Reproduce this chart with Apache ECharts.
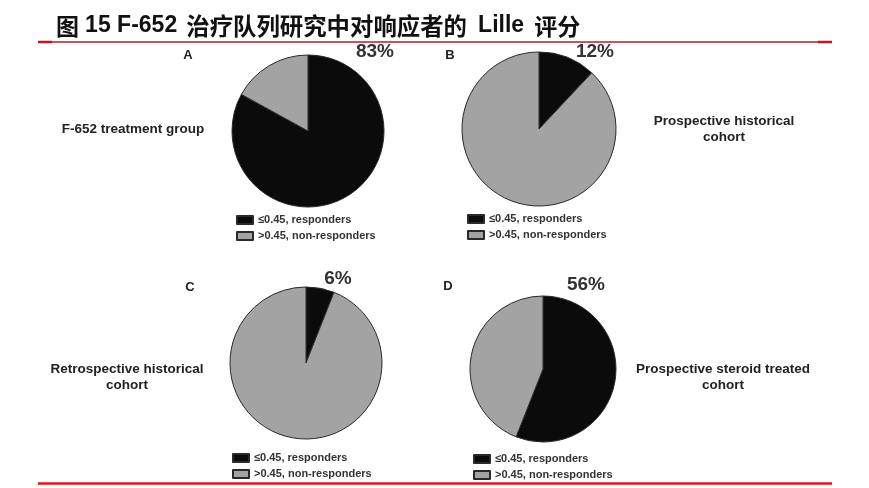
<!DOCTYPE html>
<html>
<head>
<meta charset="utf-8">
<script src="https://cdn.jsdelivr.net/npm/echarts@6/dist/echarts.min.js"></script>
<style>
html,body{margin:0;padding:0;background:#fff;}
#chart{width:869px;height:488px;}
</style>
</head>
<body>
<div id="chart"></div>
<script>
// ---- data ----
var panels = ['A', 'B', 'C', 'D'];
var groups = ['F-652 treatment group', 'Prospective historical\ncohort', 'Retrospective historical\ncohort', 'Prospective steroid treated\ncohort'];
var legendNames = ['≤0.45, responders', '>0.45, non-responders'];
var responders = [83, 12, 6, 56];
var nonResponders = [17, 88, 94, 44];

// ---- layout (styles/positions only) ----
var pieCenters = [[308, 131], [539, 129], [306, 363], [543, 369]];
var pieRadii = [76, 77, 76, 73];
var letterPos = [[188, 55], [450, 55], [190, 287], [448, 286]];
var pctPos = [[375, 52], [595, 52], [338, 279], [586, 285]];
var groupPos = [[133, 129], [724, 129], [127, 377], [723, 377]];
var legendPos = [[236, 214], [467, 213], [232, 452], [473, 453]];
var colors = ['#0b0b0b', '#a3a3a3'];

var chart = echarts.init(document.getElementById('chart'), null, {renderer: 'canvas'});

var series = [];
var legends = [];
var graphics = [];

for (var i = 0; i < panels.length; i++) {
  series.push({
    type: 'pie',
    center: pieCenters[i],
    radius: [0, pieRadii[i]],
    startAngle: 90,
    clockwise: true,
    label: {show: false},
    labelLine: {show: false},
    emphasis: {disabled: true},
    silent: true,
    itemStyle: {borderColor: '#2a2a2a', borderWidth: 1},
    data: [
      {name: legendNames[0], value: responders[i], itemStyle: {color: colors[0]}},
      {name: legendNames[1], value: nonResponders[i], itemStyle: {color: colors[1]}}
    ]
  });
  legends.push({
    orient: 'vertical',
    left: legendPos[i][0],
    top: legendPos[i][1],
    padding: 0,
    itemWidth: 16,
    itemHeight: 8,
    itemGap: 4,
    icon: 'rect',
    selectedMode: false,
    data: legendNames,
    textStyle: {fontFamily: 'Liberation Sans, Arial, sans-serif', fontSize: 11, fontWeight: 'bold', color: '#333', lineHeight: 12}
  });
  graphics.push({
    type: 'text', x: letterPos[i][0], y: letterPos[i][1], silent: true,
    style: {text: panels[i], fill: '#222', font: 'bold 13px "Liberation Sans", Arial, sans-serif', textAlign: 'center', textVerticalAlign: 'middle'}
  });
  graphics.push({
    type: 'text', x: pctPos[i][0], y: pctPos[i][1], silent: true,
    style: {text: responders[i] + '%', fill: '#333', font: 'bold 19px "Liberation Sans", Arial, sans-serif', textAlign: 'center', textVerticalAlign: 'middle'}
  });
  graphics.push({
    type: 'text', x: groupPos[i][0], y: groupPos[i][1], silent: true,
    style: {text: groups[i], fill: '#222', font: 'bold 13.5px "Liberation Sans", Arial, sans-serif', lineHeight: 16, textAlign: 'center', textVerticalAlign: 'middle'}
  });
}

// title
graphics.push({
  type: 'text', x: 56, y: 26, silent: true,
  style: {
    text: '{cn|图} {en|15 F-652} {cn2|治疗队列研究中对响应者的} {en2|Lille} {cn|评分}',
    textVerticalAlign: 'middle',
    rich: {
      cn: {fontFamily: '"Noto Sans CJK SC", sans-serif', fontSize: 23, fontWeight: 'bold', fill: '#111', color: '#111'},
      cn2: {fontFamily: '"Noto Sans CJK SC", sans-serif', fontSize: 23.4, fontWeight: 'bold', fill: '#111', color: '#111', padding: [0, 0, 0, 3]},
      en: {fontFamily: '"Liberation Sans", Arial, sans-serif', fontSize: 23, fontWeight: 'bold', fill: '#111', color: '#111'},
      en2: {fontFamily: '"Liberation Sans", Arial, sans-serif', fontSize: 23, fontWeight: 'bold', fill: '#111', color: '#111', padding: [0, 4, 0, 5]}
    },
    font: 'bold 22px "Liberation Sans", Arial, sans-serif',
    fill: '#111'
  }
});
// red rules
graphics.push({type: 'line', silent: true, shape: {x1: 38, y1: 42, x2: 832, y2: 42}, style: {stroke: '#b81c22', lineWidth: 1.5}});
graphics.push({type: 'line', silent: true, shape: {x1: 38, y1: 42, x2: 52, y2: 42}, style: {stroke: '#c4161c', lineWidth: 2.5}});
graphics.push({type: 'line', silent: true, shape: {x1: 818, y1: 42, x2: 832, y2: 42}, style: {stroke: '#c4161c', lineWidth: 2.5}});
graphics.push({type: 'line', silent: true, shape: {x1: 38, y1: 483.5, x2: 832, y2: 483.5}, style: {stroke: '#e5121b', lineWidth: 2.5}});

chart.setOption({
  backgroundColor: '#fff',
  animation: false,
  legend: legends,
  series: series,
  graphic: graphics
});
</script>
</body>
</html>
